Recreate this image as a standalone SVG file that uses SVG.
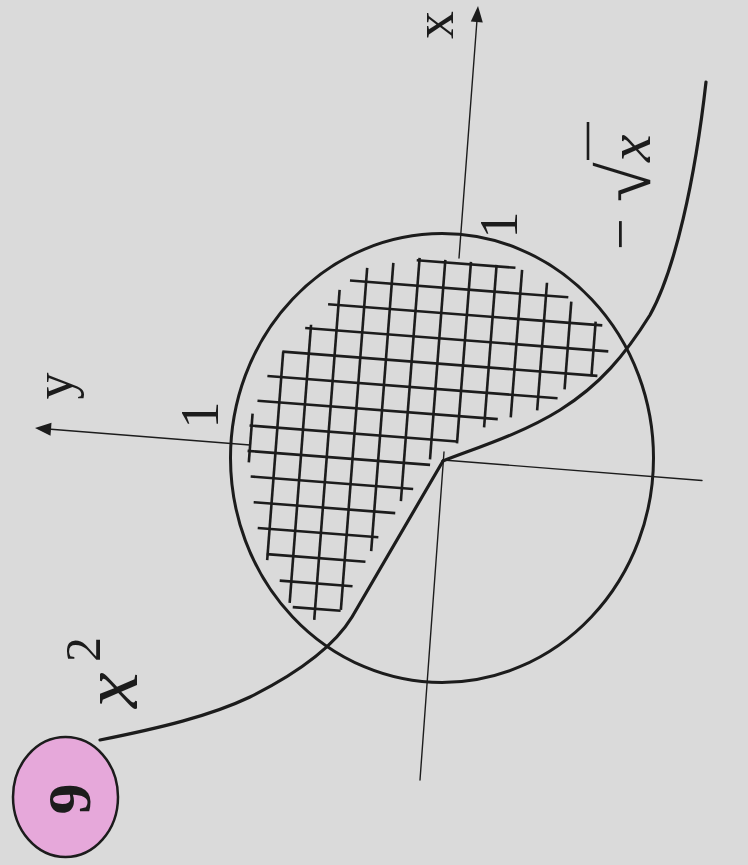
<svg xmlns="http://www.w3.org/2000/svg" width="748" height="865" viewBox="0 0 748 865">
  <style>
    .ink { stroke: #1c1c1c; fill: none; stroke-linecap: round; stroke-linejoin: round; }
    .axis { stroke-width: 1.4; }
    .curve { stroke-width: 3.2; }
    .hatch line { stroke: #1c1c1c; stroke-width: 2.6; stroke-linecap: butt; }
    .lbl { font-family: "Liberation Serif", "DejaVu Serif", serif; fill: #1c1c1c; }
    .it { font-style: italic; }
  </style>
  <rect width="748" height="865" fill="#dadada"/>

  <g id="axes">
    <line class="ink axis" x1="420" y1="780" x2="444" y2="452"/>
    <line class="ink axis" x1="459" y1="258" x2="477" y2="20"/>
    <polygon points="478,6 482.8,22.4 470.8,21.6" fill="#1c1c1c"/>
    <line class="ink axis" x1="51" y1="429.3" x2="250" y2="445"/>
    <line class="ink axis" x1="443" y1="460" x2="702" y2="480.5"/>
    <polygon points="35,428 51.5,422.8 50.5,435.8" fill="#1c1c1c"/>
  </g>

  <g id="hatch" class="hatch" transform="translate(440,440) rotate(4.4)">
    <line x1="-188.9" y1="-12" x2="-188.9" y2="37"/>
    <line x1="-163.1" y1="-76" x2="-163.1" y2="133"/>
    <line x1="-137.4" y1="-105" x2="-137.4" y2="174"/>
    <line x1="-111.6" y1="-142" x2="-111.6" y2="189"/>
    <line x1="-85.8" y1="-166" x2="-85.8" y2="177"/>
    <line x1="-60.1" y1="-173" x2="-60.1" y2="116"/>
    <line x1="-34.3" y1="-180" x2="-34.3" y2="64"/>
    <line x1="-8.5" y1="-180" x2="-8.5" y2="20"/>
    <line x1="17.2" y1="-180" x2="17.2" y2="2"/>
    <line x1="43" y1="-179" x2="43" y2="-16"/>
    <line x1="68.8" y1="-176" x2="68.8" y2="-28"/>
    <line x1="94.6" y1="-165" x2="94.6" y2="-37"/>
    <line x1="120.3" y1="-148" x2="120.3" y2="-60"/>
    <line x1="146.1" y1="-130" x2="146.1" y2="-75"/>

    <line x1="-37" y1="-177.5" x2="62" y2="-177.5"/>
    <line x1="-102" y1="-152.1" x2="117" y2="-152.1"/>
    <line x1="-122" y1="-126.7" x2="153" y2="-126.7"/>
    <line x1="-143" y1="-101.3" x2="161" y2="-101.3"/>
    <line x1="-164" y1="-76" x2="152" y2="-76"/>
    <line x1="-177" y1="-50.6" x2="114" y2="-50.6"/>
    <line x1="-185" y1="-25.2" x2="56" y2="-25.2"/>
    <line x1="-191" y1="0.2" x2="17" y2="0.2"/>
    <line x1="-191" y1="25.6" x2="-8" y2="25.6"/>
    <line x1="-186" y1="50.9" x2="-23" y2="50.9"/>
    <line x1="-181" y1="76.3" x2="-39" y2="76.3"/>
    <line x1="-175" y1="101.7" x2="-54" y2="101.7"/>
    <line x1="-164" y1="127.1" x2="-65" y2="127.1"/>
    <line x1="-149" y1="152.5" x2="-76" y2="152.5"/>
    <line x1="-134" y1="177.9" x2="-86" y2="177.9"/>
  </g>

  <g id="circle">
    <ellipse class="ink" cx="442" cy="458" rx="211.5" ry="224.5" stroke-width="3"/>
  </g>

  <g id="curves">
    <path id="curve-x2" class="ink curve" d="M443,461 L352,617 C335,645 300,672 250,697 C210,716 160,728 100,740"/>
    <path id="curve-sqrt" class="ink curve" d="M443,461 C470,450 520,435 560,410 C600,385 625,355 650,315 C675,270 695,180 706,82"/>
  </g>

  <g id="labels" class="lbl">
    <text transform="translate(453,25) rotate(-90)" text-anchor="middle" font-size="56">x</text>
    <text transform="translate(72,386) rotate(-90)" text-anchor="middle" font-size="54">y</text>
    <text transform="translate(517,225) rotate(-90)" text-anchor="middle" font-size="54">1</text>
    <text transform="translate(218,415) rotate(-90)" text-anchor="middle" font-size="54">1</text>
    <g transform="rotate(-90)">
      <text class="it" x="-708" y="137" font-size="80">x</text>
      <text x="-662" y="100" font-size="50">2</text>
      <text x="-250" y="639" font-size="56">−</text>
      <text x="-202" y="650" font-size="72">√</text>
      <text class="it" x="-162" y="650" font-size="62">x</text>
    </g>
    <line x1="588" y1="160" x2="588" y2="122" stroke="#1c1c1c" stroke-width="2.6"/>
  </g>

  <g id="badge">
    <ellipse cx="65.5" cy="797" rx="52.5" ry="60" fill="#e6a8da" stroke="#1c1c1c" stroke-width="2.5"/>
    <text class="lbl" transform="translate(90,799) rotate(-90)" text-anchor="middle" font-size="62" font-weight="bold">9</text>
  </g>
</svg>
